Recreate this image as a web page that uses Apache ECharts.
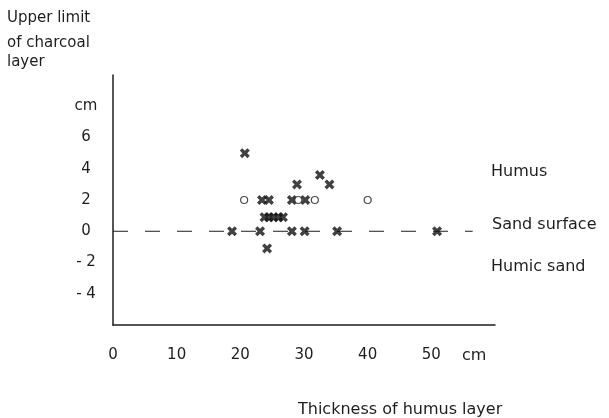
<!DOCTYPE html>
<html>
<head>
<meta charset="utf-8">
<script src="https://cdn.jsdelivr.net/npm/echarts@6/dist/echarts.min.js"></script>
<style>
html,body{margin:0;padding:0;background:#fff;}
#chart{width:609px;height:418px;}
</style>
</head>
<body>
<div id="chart"></div>
<script>
// Crosses: [thickness of humus layer (cm), upper limit of charcoal layer (cm)]
var crossPoints = [
  [20.7, 5.0],
  [23.4, 2.0], [24.5, 2.0], [28.1, 2.0], [30.2, 2.0],
  [23.8, 0.9], [24.5, 0.9], [25.2, 0.9], [26.0, 0.9], [26.7, 0.9],
  [18.7, 0.0], [23.1, 0.0], [28.1, 0.0], [30.1, 0.0], [35.2, 0.0], [50.9, 0.0],
  [24.2, -1.1],
  [28.9, 3.0], [32.5, 3.6], [34.0, 3.0]
];
// Circles
var circlePoints = [
  [20.6, 2.0], [29.1, 2.0], [31.7, 2.0], [40.0, 2.0]
];
// Sand surface reference line
var sandSurface = [[0, 0], [56.5, 0]];
var xTicks = [0, 10, 20, 30, 40, 50];
var yTicks = [-4, -2, 0, 2, 4, 6];
var yUnitTickValue = 8;

var font = "DejaVu Sans";
var ink = "#1e1e1e";
var markInk = "#111111";
var crossPath = "path://M0,2.4 L2.4,0 L5,2.6 L7.6,0 L10,2.4 L7.4,5 L10,7.6 L7.6,10 L5,7.4 L2.4,10 L0,7.6 L2.6,5 Z";
function txt(s, size) { return {text: s, font: size + 'px "' + font + '"', fill: ink}; }

var chart = echarts.init(document.getElementById('chart'), null, {renderer: 'canvas'});
chart.setOption({
  backgroundColor: '#ffffff',
  animation: false,
  grid: {left: 113, right: 114, top: 75, bottom: 93},
  xAxis: {
    type: 'value', min: 0, max: 60, interval: 10,
    axisLine: {show: true, onZero: false, lineStyle: {color: ink, width: 1.5}},
    axisTick: {show: false},
    splitLine: {show: false},
    axisLabel: {
      margin: 23, fontFamily: font, fontSize: 15, color: ink,
      formatter: function (v) { return xTicks.indexOf(v) >= 0 ? String(v) : ''; }
    }
  },
  yAxis: {
    type: 'value', min: -6, max: 10, interval: 2,
    axisLine: {show: true, onZero: false, lineStyle: {color: ink, width: 1.5}},
    axisTick: {show: false},
    splitLine: {show: false},
    axisLabel: {
      margin: 27, align: 'center', fontFamily: font, fontSize: 15, color: ink,
      formatter: function (v) {
        if (v === yUnitTickValue) return 'cm';
        if (yTicks.indexOf(v) < 0) return '';
        return v < 0 ? '- ' + Math.abs(v) : String(v);
      }
    }
  },
  series: [
    {
      type: 'line', data: sandSurface, symbol: 'none', silent: true,
      lineStyle: {color: ink, width: 1.2, type: [15, 17]}, z: 1
    },
    {
      type: 'scatter', data: crossPoints, symbol: crossPath, symbolSize: 10,
      itemStyle: {color: markInk}, z: 3
    },
    {
      type: 'scatter', data: circlePoints, symbol: 'circle', symbolSize: 7,
      itemStyle: {color: '#ffffff', borderColor: ink, borderWidth: 1.2}, z: 3
    }
  ],
  graphic: [
    {type: 'text', left: 7, top: 11, style: txt('Upper limit', 15)},
    {type: 'text', left: 7, top: 36, style: txt('of charcoal', 15)},
    {type: 'text', left: 7, top: 55, style: txt('layer', 15)},
    {type: 'text', left: 462, top: 348, style: txt('cm', 16)},
    {type: 'text', left: 491, top: 164, style: txt('Humus', 16)},
    {type: 'text', left: 492, top: 217, style: txt('Sand surface', 16)},
    {type: 'text', left: 491, top: 259, style: txt('Humic sand', 16)},
    {type: 'text', left: 298, top: 402, style: txt('Thickness of humus layer', 16)}
  ]
});
</script>
</body>
</html>
